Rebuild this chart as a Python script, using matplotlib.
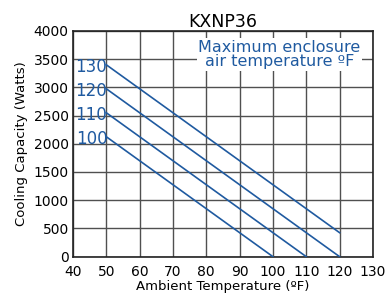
import numpy as np
import matplotlib
matplotlib.use("Agg")
import matplotlib.pyplot as plt

# max enclosure air temperature curves (ºF)
series = ["100", "110", "120", "130"]
x_start = [50, 50, 50, 50]
x_end = [100, 110, 120, 120]
y_start = [2125, 2550, 2975, 3400]
y_end = [0, 0, 0, 425]

blue = "#1f5aa0"
plt.rcParams["font.family"] = ["DejaVu Sans"]

fig = plt.figure(figsize=(3.88, 3.03), dpi=100)
ax = fig.add_axes([0.188, 0.153, 0.773, 0.745])

for name, x0, x1, y0, y1 in zip(series, x_start, x_end, y_start, y_end):
    ax.plot([x0, x1], [y0, y1], color=blue, lw=1.2, zorder=3)
    ax.text(x0 + 0.3, y0 - 40, name, color=blue, fontsize=12, ha="right", va="center", zorder=4)

ax.set_xlim(40, 130)
ax.set_ylim(0, 4000)
ax.set_xticks(np.arange(40, 131, 10))
ax.set_yticks(np.arange(0, 4001, 500))
ax.grid(True, color="#505050", lw=1.0, zorder=0)
ax.tick_params(labelsize=10, length=0)
ax.tick_params(axis="x", pad=6)
ax.tick_params(axis="y", pad=3)
for s in ax.spines.values():
    s.set_linewidth(1.2)
    s.set_color("#222222")

ax.set_title("KXNP36", fontsize=12.5, pad=3)
ax.set_xlabel("Ambient Temperature (ºF)", fontsize=9.5, labelpad=1)
ax.set_ylabel("Cooling Capacity (Watts)", fontsize=9.5, labelpad=4)

ax.text(102, 3580, "Maximum enclosure\nair temperature ºF", color=blue, fontsize=11.5,
        ha="center", va="center", linespacing=0.95,
        bbox=dict(facecolor="white", edgecolor="none", pad=1), zorder=5)

fig.savefig("out.png", dpi=100)
